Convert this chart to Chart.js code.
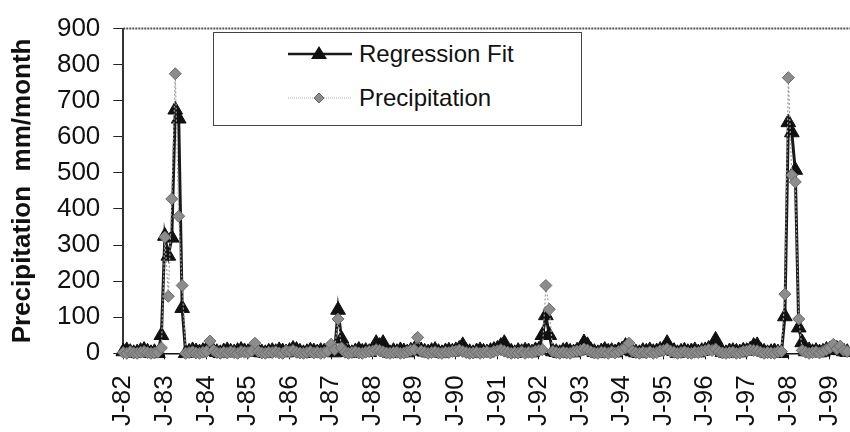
<!DOCTYPE html>
<html>
<head>
<meta charset="utf-8">
<script src="https://cdn.jsdelivr.net/npm/chart.js@4.4.1/dist/chart.umd.min.js"></script>
<style>
  html, body { margin: 0; padding: 0; background: #fff; overflow: hidden; }
  #wrap { position: relative; width: 850px; height: 432px; overflow: hidden; }
  #precipChart { display: block; }
  #legend {
    position: absolute; left: 213px; top: 32px; width: 369px; height: 94px;
    box-sizing: border-box; border: 1px solid #444; background: #fff;
    font-family: "Liberation Sans", Arial, sans-serif; font-size: 24px; color: #111;
  }
  .row { position: absolute; left: 74px; height: 30px; display: flex; align-items: center; white-space: nowrap; }
  .row svg { margin-right: 7px; }
</style>
</head>
<body>
<div id="wrap">
  <canvas id="precipChart" width="880" height="432"></canvas>
  <div id="legend">
    <div class="row" style="top:6px">
      <svg width="64" height="30"><line x1="0" y1="15" x2="64" y2="15" stroke="#1a1a1a" stroke-width="2.5"/><polygon points="31,7 39,20 23,20" fill="#111"/></svg>
      <span>Regression Fit</span>
    </div>
    <div class="row" style="top:50px">
      <svg width="64" height="30"><line x1="0" y1="15" x2="64" y2="15" stroke="#aaa" stroke-width="1" stroke-dasharray="1,1"/><polygon points="31,10 36,15 31,20 26,15" fill="#8c8c8c" stroke="#666" stroke-width="1"/></svg>
      <span>Precipitation</span>
    </div>
  </div>
</div>
<script>
const years = ['82', '83', '84', '85', '86', '87', '88', '89', '90', '91', '92', '93', '94', '95', '96', '97', '98', '99'];
const monthNames = ['Jan', 'Feb', 'Mar', 'Apr', 'May', 'Jun', 'Jul', 'Aug', 'Sep', 'Oct', 'Nov', 'Dec'];
const xTickLabels = ['J-82', 'J-83', 'J-84', 'J-85', 'J-86', 'J-87', 'J-88', 'J-89', 'J-90', 'J-91', 'J-92', 'J-93', 'J-94', 'J-95', 'J-96', 'J-97', 'J-98', 'J-99'];

// monthly, Jan-82 .. Jun-99
const regressionFit = [
    5, 8, 3, 0, 2, 6, 9, 4, 0, 3, 0, 50,            // 82
    325, 270, 320, 675, 650, 125, 0, 4, 8, 5, 2, 6, // 83
    10, 12, 6, 3, 0, 5, 8, 4, 2, 6, 9, 5,           // 84
    3, 8, 14, 7, 2, 0, 4, 6, 3, 8, 5, 2,            // 85
    6, 12, 9, 4, 0, 3, 7, 5, 2, 6, 4, 8,            // 86
    5, 2, 120, 40, 8, 3, 0, 5, 9, 4, 6, 3,          // 87
    8, 28, 20, 28, 4, 0, 6, 3, 8, 5, 2, 7,          // 88
    10, 15, 8, 4, 2, 6, 9, 3, 0, 5, 7, 4,           // 89
    8, 12, 22, 6, 3, 0, 5, 8, 4, 2, 6, 9,           // 90
    12, 20, 28, 8, 4, 0, 6, 3, 7, 5, 2, 8,          // 91
    10, 50, 105, 50, 5, 3, 0, 6, 8, 4, 2, 7,        // 92
    12, 30, 22, 8, 3, 0, 5, 9, 4, 6, 2, 8,          // 93
    10, 20, 12, 5, 2, 0, 6, 4, 8, 3, 5, 9,          // 94
    12, 28, 10, 6, 0, 4, 7, 3, 5, 8, 2, 6,          // 95
    8, 12, 15, 37, 10, 3, 0, 5, 6, 4, 2, 7,         // 96
    6, 10, 20, 22, 8, 4, 0, 3, 5, 2, 0, 102,        // 97
    640, 612, 508, 71, 30, 5, 8, 3, 6, 2, 4, 9,     // 98
    10, 15, 12, 8, 5, 3                             // 99
];
const precipitation = [
    2, 0, 4, 1, 0, 3, 5, 2, 0, 1, 3, 15,
    322, 158, 428, 775, 380, 188, 0, 2, 4, 1, 0, 3,
    5, 34, 8, 2, 0, 3, 1, 4, 2, 0, 5, 3,
    2, 6, 28, 5, 1, 0, 3, 2, 4, 1, 0, 6,
    4, 8, 3, 1, 0, 2, 5, 1, 3, 0, 2, 6,
    25, 10, 95, 15, 3, 0, 2, 4, 1, 0, 3, 5,
    6, 10, 8, 4, 1, 0, 2, 3, 0, 1, 4, 8,
    10, 44, 6, 3, 0, 2, 4, 1, 0, 3, 2, 5,
    6, 9, 5, 2, 0, 1, 3, 0, 2, 4, 1, 5,
    7, 10, 6, 3, 0, 2, 1, 4, 0, 3, 2, 6,
    8, 10, 188, 122, 5, 2, 0, 3, 1, 0, 4, 6,
    8, 12, 9, 4, 1, 0, 3, 2, 0, 4, 1, 5,
    10, 15, 28, 6, 2, 0, 3, 1, 4, 0, 2, 7,
    8, 12, 6, 3, 0, 2, 4, 1, 0, 3, 2, 5,
    7, 10, 8, 12, 4, 1, 0, 2, 3, 0, 1, 5,
    6, 9, 8, 7, 3, 0, 2, 1, 0, 4, 5, 164,
    764, 494, 475, 95, 8, 3, 0, 2, 4, 1, 5, 10,
    15, 25, 12, 20, 8, 5
];

const labels = [];
for (const y of years) {
    for (const m of monthNames) labels.push(m + '-' + y);
}

const topBorder = {
    id: 'topBorder',
    beforeDatasetsDraw(chart) {
        const { ctx, chartArea } = chart;
        ctx.save();
        ctx.strokeStyle = '#555';
        ctx.lineWidth = 2;
        ctx.setLineDash([2, 1]);
        ctx.beginPath();
        ctx.moveTo(chartArea.left, chartArea.top);
        ctx.lineTo(chartArea.right, chartArea.top);
        ctx.stroke();
        ctx.restore();
    }
};

const font = '"Liberation Sans", Arial, sans-serif';
var ctx = document.getElementById('precipChart').getContext('2d');

var precipChart = new Chart(ctx, {
    type: 'line',
    data: {
        labels: labels,
        datasets: [
            {
                label: 'Regression Fit',
                data: regressionFit,
                order: 1,
                borderColor: '#1a1a1a',
                borderWidth: 3,
                pointStyle: 'triangle',
                pointRadius: 8.5,
                pointBackgroundColor: '#111',
                pointBorderColor: '#111',
                pointBorderWidth: 1,
                tension: 0,
                clip: false
            },
            {
                label: 'Precipitation',
                data: precipitation,
                order: 0,
                borderColor: '#a0a0a0',
                borderWidth: 1.2,
                borderDash: [2, 2],
                pointStyle: 'rectRot',
                pointRadius: 6,
                pointBackgroundColor: '#8c8c8c',
                pointBorderColor: '#6a6a6a',
                pointBorderWidth: 1,
                tension: 0,
                clip: false
            }
        ]
    },
    options: {
        responsive: false,
        animation: false,
        layout: { padding: { left: 0, right: 12, top: 25, bottom: 0 } },
        plugins: {
            legend: { display: false },
            tooltip: { enabled: false }
        },
        scales: {
            x: {
                offset: false,
                afterBuildTicks: (scale) => {
                    scale.ticks = scale.ticks.filter(t => t.value % 12 === 0);
                },
                afterFit: (scale) => { scale.height = 78.7; },
                grid: { drawOnChartArea: false, tickLength: 6, color: '#111' },
                border: { color: '#111', width: 1.5 },
                ticks: {
                    autoSkip: false,
                    minRotation: 90,
                    maxRotation: 90,
                    padding: 16,
                    color: '#111',
                    font: { family: font, size: 26 },
                    callback: (value) => xTickLabels[value / 12]
                }
            },
            y: {
                min: 0,
                max: 900,
                afterFit: (scale) => { scale.width = 123.3; },
                grid: { drawOnChartArea: false, tickLength: 10, color: '#222' },
                border: { color: '#333', width: 2 },
                ticks: {
                    stepSize: 100,
                    padding: 13,
                    color: '#111',
                    font: { family: font, size: 26 }
                },
                title: {
                    display: true,
                    text: 'Precipitation  mm/month',
                    color: '#111',
                    padding: { top: 7, bottom: 0 },
                    font: { family: font, size: 26, weight: 'bold' }
                }
            }
        }
    },
    plugins: [topBorder]
});
</script>
</body>
</html>
